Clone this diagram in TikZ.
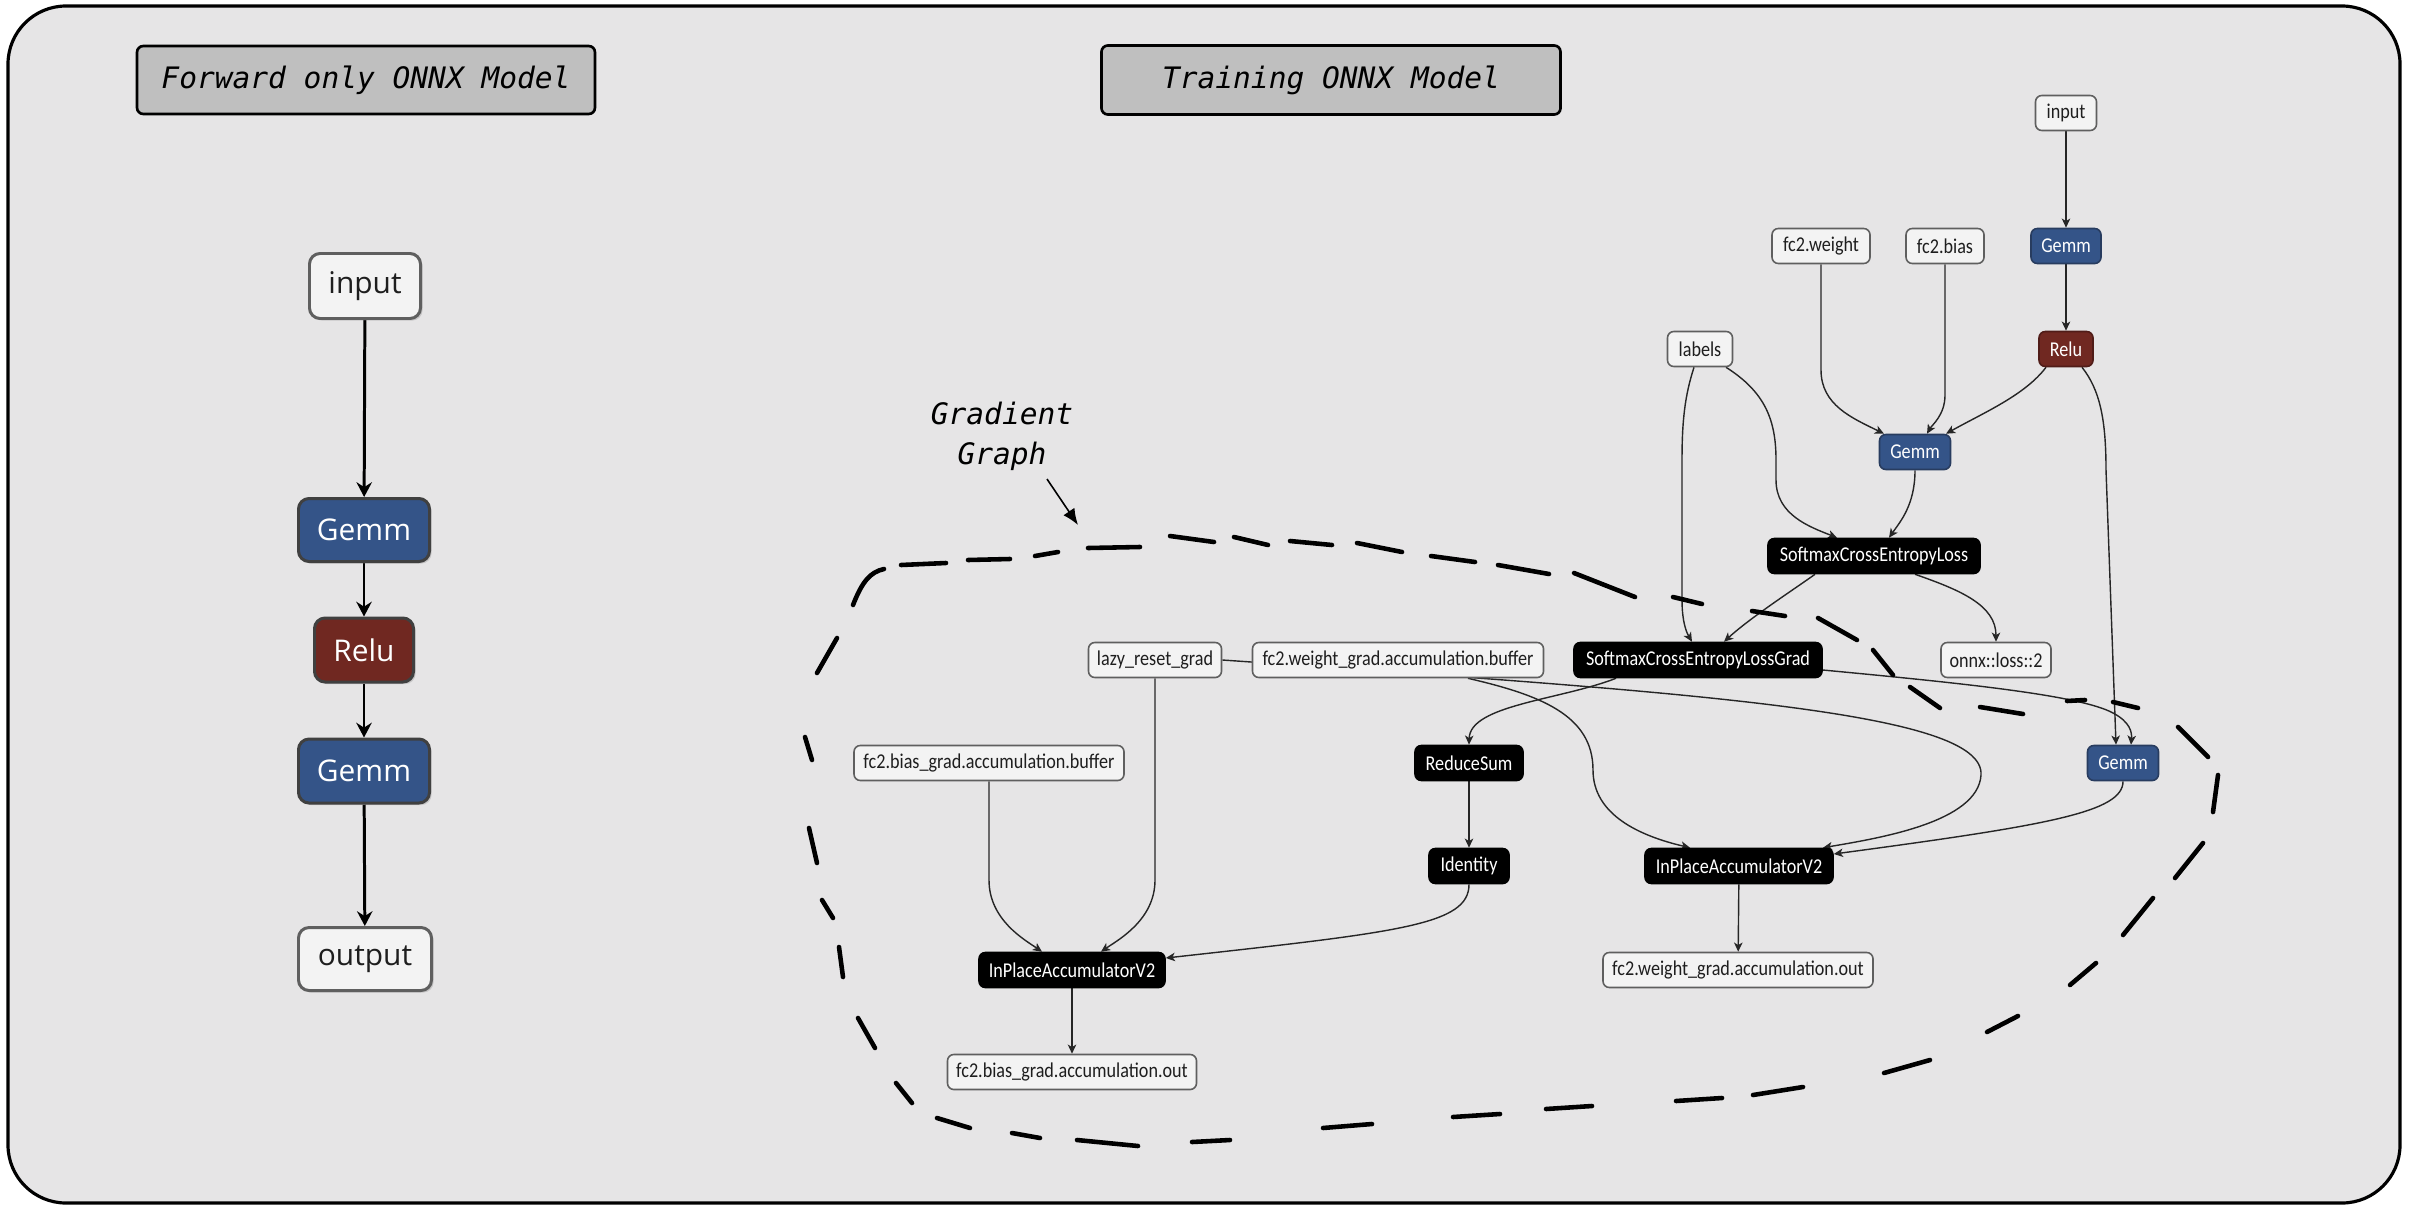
\documentclass[tikz,border=0pt]{standalone}
\usepackage{fontspec}
\usetikzlibrary{arrows.meta,calc,shadows}
\newfontfamily\nodefont{Carlito}[FakeStretch=0.86]
\newfontfamily\leftfont{Open Sans}
\newfontfamily\titlefont{DejaVu Sans Mono}
\definecolor{panelbg}{RGB}{230,229,230}
\definecolor{titlegray}{RGB}{191,191,191}
\definecolor{gemmblue}{RGB}{52,84,136}
\definecolor{gemmedge}{RGB}{40,60,95}
\definecolor{relured}{RGB}{112,40,33}
\definecolor{reluedge}{RGB}{80,28,24}
\definecolor{valfill}{RGB}{243,243,243}
\definecolor{valedge}{RGB}{95,95,95}
\definecolor{inktext}{RGB}{30,30,30}
\pgfdeclarelayer{bglayer}
\pgfdeclarelayer{edgelayer}
\pgfsetlayers{bglayer,edgelayer,main}
\tikzset{
 sz/.style 2 args={minimum width=#1*0.01cm, minimum height=#2*0.01cm},
 titlebox/.style={draw=black, line width=0.75pt, fill=titlegray, rounded corners=1.8pt, inner sep=0pt, font=\titlefont\itshape\fontsize{8.4}{10}\selectfont},
 lnode/.style={draw=valedge, line width=0.85pt, rounded corners=3pt, inner sep=0pt, font=\leftfont\fontsize{8.5}{10}\selectfont, drop shadow={shadow xshift=0.6pt, shadow yshift=-0.6pt, opacity=0.3}},
 lval/.style={lnode, fill=valfill, text=inktext},
 lgemm/.style={lnode, draw=black!75, fill=gemmblue, text=white},
 lrelu/.style={lnode, draw=black!75, fill=relured, text=white},
 rnode/.style={line width=0.45pt, rounded corners=1.8pt, inner sep=0pt, minimum height=35*0.01cm, font=\nodefont\fontsize{6}{7}\selectfont},
 rw/.style={minimum width=#1*0.01cm},
 rval/.style={rnode, draw=valedge, fill=valfill, text=inktext},
 rgemm/.style={rnode, draw=gemmedge, fill=gemmblue, text=white},
 rrelu/.style={rnode, draw=reluedge, fill=relured, text=white},
 rop/.style={rnode, draw=black, fill=black, text=white},
 ledge/.style={line width=0.85pt, draw=black, -{Stealth[length=4.2pt,width=4.4pt,inset=1.4pt]}},
 redge/.style={line width=0.4pt, draw=black!85, -{Stealth[length=2.6pt,width=2.4pt,inset=0.7pt]}},
 gdash/.style={line width=1.3pt, line cap=round, draw=black},
}
\begin{document}
\begin{tikzpicture}[x=0.01cm, y=-0.01cm]
\useasboundingbox (0,0) rectangle (2412,1206);
\begin{pgfonlayer}{bglayer}
\fill[white] (0,0) rectangle (2412,1206);
\draw[line width=0.9pt, fill=panelbg, rounded corners=16.5pt] (8,6) rectangle (2400,1203);
\end{pgfonlayer}

% titles
\node[titlebox, sz={458}{68}] (title1) at (366,80) {Forward only ONNX Model};
\node[titlebox, sz={459}{69}] (title2) at (1331,80) {Training ONNX Model};

% left panel
\node[lval, sz={111}{65}] (Linput) at (365,286) {input};
\node[lgemm, sz={131}{63}] (LGemm1) at (364,530) {Gemm};
\node[lrelu, sz={99}{64}] (LRelu) at (364,650) {Relu};
\node[lgemm, sz={131}{64}] (LGemm2) at (364,771) {Gemm};
\node[lval, sz={133}{63}] (Loutput) at (365,959) {output};

% right panel
\node[rval, rw=61] (Rinput) at (2066,113) {input};
\node[rgemm, rw=70] (RGemm1) at (2066,246) {Gemm};
\node[rval, rw=98] (fc2w) at (1821,246) {fc2.weight};
\node[rval, rw=78] (fc2b) at (1945,246) {fc2.bias};
\node[rval, rw=65] (labels) at (1700,349) {labels};
\node[rrelu, rw=54] (RRelu) at (2066,349) {Relu};
\node[rgemm, rw=71] (RGemm2) at (1915,452) {Gemm};
\node[rop, rw=212] (SCEL) at (1874,556) {SoftmaxCrossEntropyLoss};
\node[rval, rw=110] (loss) at (1996,660) {onnx::loss::2};
\node[rop, rw=248] (SCELG) at (1698,660) {SoftmaxCrossEntropyLossGrad};
\node[rval, rw=133] (lazy) at (1155,660) {lazy\_reset\_grad};
\node[rval, rw=291] (wbuf) at (1398,660) {fc2.weight\_grad.accumulation.buffer};
\node[rval, rw=270] (bbuf) at (989,763) {fc2.bias\_grad.accumulation.buffer};
\node[rop, rw=108] (RS) at (1469,763) {ReduceSum};
\node[rgemm, rw=71] (RGemm3) at (2123,763) {Gemm};
\node[rop, rw=80] (Id) at (1469,866) {Identity};
\node[rop, rw=188] (IPA2) at (1739,866) {InPlaceAccumulatorV2};
\node[rop, rw=186] (IPA1) at (1072,970) {InPlaceAccumulatorV2};
\node[rval, rw=270] (wout) at (1738,970) {fc2.weight\_grad.accumulation.out};
\node[rval, rw=249] (bout) at (1072,1072) {fc2.bias\_grad.accumulation.out};

% gradient graph label
\node[font=\titlefont\itshape\fontsize{8.4}{11.4}\selectfont, align=center, inner sep=0pt] (gg) at (1002,436) {Gradient\\Graph};
\coordinate (ggtip) at (1078,525);
\draw[line width=0.45pt, -{Latex[length=4.6pt,width=3.8pt]}] ($(gg.south)+(45,8)$) -- (ggtip);

\begin{pgfonlayer}{edgelayer}
% left edges
\draw[ledge] (Linput) -- (LGemm1);
\draw[ledge] (LGemm1) -- (LRelu);
\draw[ledge] (LRelu) -- (LGemm2);
\draw[ledge] (LGemm2) -- (Loutput);
% right edges
\draw[redge] (Rinput) -- (RGemm1);
\draw[redge] (RGemm1) -- (RRelu);
\draw[redge] (fc2w.south) -- (1821,370) .. controls (1821,405) and (1852,418) .. ($(RGemm2.north)+(-31,0)$);
\draw[redge] (fc2b.south) -- (1945,395) .. controls (1945,415) and (1932,425) .. ($(RGemm2.north)+(12,0)$);
\draw[redge] ($(RRelu.south)+(-20,0)$) .. controls (2025,395) and (1985,412) .. ($(RGemm2.north)+(31,0)$);
\draw[redge] ($(RRelu.south)+(16,0)$) .. controls (2100,390) and (2106,420) .. (2106,470) -- ($(RGemm3.north)+(-7,0)$);
\draw[redge] ($(labels.south)+(26,0)$) .. controls (1765,392) and (1776,420) .. (1776,460) -- (1776,480) .. controls (1776,515) and (1810,527) .. ($(SCEL.north)+(-37,0)$);
\draw[redge] ($(labels.south)+(-6,0)$) .. controls (1685,395) and (1682,420) .. (1682,460) -- (1682,600) .. controls (1682,625) and (1688,635) .. ($(SCELG.north)+(-6,0)$);
\draw[redge] (RGemm2.south) .. controls (1915,505) and (1900,522) .. ($(SCEL.north)+(15,0)$);
\draw[redge] ($(SCEL.south)+(-59,0)$) .. controls (1790,592) and (1750,618) .. ($(SCELG.north)+(26,0)$);
\draw[redge] ($(SCEL.south)+(41,0)$) .. controls (1960,590) and (1996,605) .. (loss.north);
\draw[redge] ($(SCELG.south)+(-82,0)$) .. controls (1560,700) and (1470,705) .. (RS.north);
\draw[redge] ($(SCELG.east)+(0,10)$) .. controls (1960,683) and (2080,695) .. (2113,713) .. controls (2130,722) and (2132,732) .. ($(RGemm3.north)+(8,0)$);
\draw[redge] ($(wbuf.south)+(70,0)$) .. controls (1540,695) and (1593,715) .. (1593,770) .. controls (1593,815) and (1640,836) .. ($(IPA2.north)+(-49,0)$);
\draw[redge] (lazy.east) .. controls (1700,693) and (1985,712) .. (1981,775) .. controls (1978,822) and (1880,838) .. ($(IPA2.north)+(84,0)$);
\draw[redge] (RGemm3.south) .. controls (2123,812) and (2050,825) .. ($(IPA2.east)+(0,-12)$);
\draw[redge] (lazy.south) -- (1155,880) .. controls (1155,920) and (1118,940) .. ($(IPA1.north)+(29,0)$);
\draw[redge] (bbuf.south) -- (989,880) .. controls (989,920) and (1025,940) .. ($(IPA1.north)+(-30,0)$);
\draw[redge] (RS) -- (Id);
\draw[redge] (Id.south) .. controls (1469,925) and (1400,932) .. ($(IPA1.east)+(0,-12)$);
\draw[redge] (IPA1) -- (bout);
\draw[redge] (IPA2) -- (wout);
\end{pgfonlayer}

% hand-drawn dashed outline of the gradient graph
\draw[gdash] (853,605) .. controls (862,582) and (870,572) .. (884,569);
\foreach \a/\b/\c/\d in {901/565/946/563, 968/560/1010/559, 1035/556/1058/552, 1088/548/1140/547, 1170/536/1214/542, 1234/537/1268/545, 1290/541/1332/545, 1357/543/1402/552, 1431/556/1475/562, 1498/565/1549/574, 1574/573/1635/597, 1673/597/1702/604, 1752/611/1785/616, 1818/618/1857/640, 1873/650/1893/675, 1910/687/1940/708, 1980/707/2023/714, 2067/701/2085/700, 2113/702/2138/708, 2178/727/2208/757, 2218/775/2213/812, 2203/843/2175/878, 2153/898/2123/935, 2096/963/2070/985, 2018/1016/1987/1032, 1930/1060/1884/1073, 1803/1087/1753/1095, 1722/1098/1676/1101, 1592/1106/1546/1109, 1500/1114/1453/1117, 1372/1124/1323/1128, 1230/1140/1192/1142, 1138/1146/1077/1140, 1040/1138/1012/1133, 970/1128/937/1118, 912/1103/896/1083, 875/1048/858/1018, 843/977/839/947, 833/918/822/900, 817/863/809/828, 812/760/805/737, 817/673/837/638}
  \draw[gdash] (\a,\b) -- (\c,\d);
\end{tikzpicture}
\end{document}
